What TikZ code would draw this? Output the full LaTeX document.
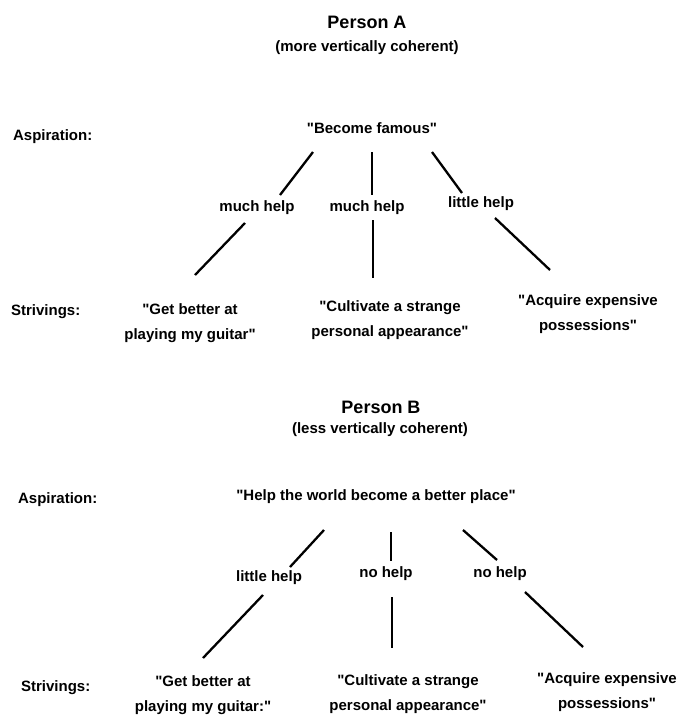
\documentclass[tikz,border=0pt]{standalone}
\usepackage{fontspec}
\setmainfont{Liberation Sans}[Ligatures=TeXOff]
\begin{document}
\begin{tikzpicture}[x=1pt, y=-1pt, line width=2.3pt,
    every node/.style={font=\bfseries\fontsize{15}{25}\selectfont, inner sep=0pt, align=center},
    title/.style={font=\bfseries\fontsize{18}{20}\selectfont},
    side/.style={anchor=west}]
    \useasboundingbox (0,0) rectangle (680,715);

    % Person A
    \node[title](PA) at (367, 22) {Person A};
    \node(PA_sub) at (367, 48) {(more vertically coherent)};
    \node[side](PA_asp) at (12, 137) {Aspiration:};
    \node(PA_goal) at (372, 128) {"Become famous"};

    \node(PA_h1) at (257, 208) {much help};
    \node(PA_h2) at (367, 208) {much help};
    \node(PA_h3) at (481, 204) {little help};

    \node[side](PA_str) at (10, 312) {Strivings:};
    \node(PA_s1) at (190, 323) {"Get better at\\playing my guitar"};
    \node(PA_s2) at (390, 320) {"Cultivate a strange\\personal appearance"};
    \node(PA_s3) at (588, 314) {"Acquire expensive\\possessions"};

    \coordinate(PA_u1a) at (313, 152);  \coordinate(PA_u1b) at (280, 195);
    \coordinate(PA_u2a) at (372, 152);  \coordinate(PA_u2b) at (372, 195);
    \coordinate(PA_u3a) at (432, 152);  \coordinate(PA_u3b) at (462, 193);
    \coordinate(PA_l1a) at (245, 223);  \coordinate(PA_l1b) at (195, 275);
    \coordinate(PA_l2a) at (373, 220);  \coordinate(PA_l2b) at (373, 278);
    \coordinate(PA_l3a) at (495, 218);  \coordinate(PA_l3b) at (550, 270);

    \path (PA_u1a) edge (PA_u1b) (PA_u2a) edge (PA_u2b) (PA_u3a) edge (PA_u3b);
    \path (PA_l1a) edge (PA_l1b) (PA_l2a) edge (PA_l2b) (PA_l3a) edge (PA_l3b);

    % Person B
    \node[title](PB) at (381, 407) {Person B};
    \node(PB_sub) at (380, 430) {(less vertically coherent)};
    \node[side](PB_asp) at (17, 500) {Aspiration:};
    \node(PB_goal) at (376, 497) {"Help the world become a better place"};

    \node(PB_h1) at (269, 578) {little help};
    \node(PB_h2) at (386, 574) {no help};
    \node(PB_h3) at (500, 574) {no help};

    \node[side](PB_str) at (20, 688) {Strivings:};
    \node(PB_s1) at (203, 695) {"Get better at\\playing my guitar:"};
    \node(PB_s2) at (408, 694) {"Cultivate a strange\\personal appearance"};
    \node(PB_s3) at (607, 692) {"Acquire expensive\\possessions"};

    \coordinate(PB_u1a) at (324, 530);  \coordinate(PB_u1b) at (290, 567);
    \coordinate(PB_u2a) at (391, 532);  \coordinate(PB_u2b) at (391, 561);
    \coordinate(PB_u3a) at (463, 530);  \coordinate(PB_u3b) at (497, 560);
    \coordinate(PB_l1a) at (263, 595);  \coordinate(PB_l1b) at (203, 658);
    \coordinate(PB_l2a) at (392, 597);  \coordinate(PB_l2b) at (392, 648);
    \coordinate(PB_l3a) at (525, 592);  \coordinate(PB_l3b) at (583, 647);

    \path (PB_u1a) edge (PB_u1b) (PB_u2a) edge (PB_u2b) (PB_u3a) edge (PB_u3b);
    \path (PB_l1a) edge (PB_l1b) (PB_l2a) edge (PB_l2b) (PB_l3a) edge (PB_l3b);

\end{tikzpicture}
\end{document}
